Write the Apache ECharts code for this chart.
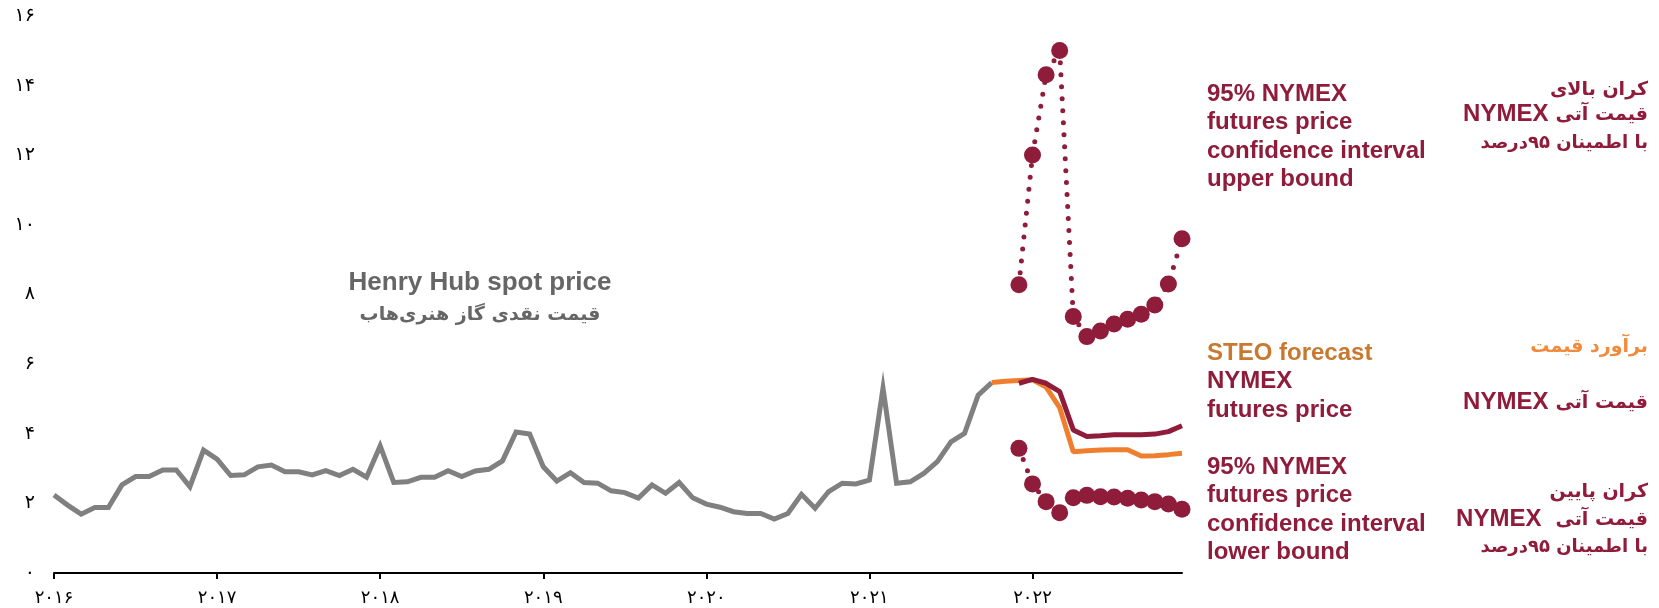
<!DOCTYPE html>
<html>
<head>
<meta charset="utf-8">
<script src="https://cdn.jsdelivr.net/npm/echarts@6/dist/echarts.min.js"></script>
<style>html,body{margin:0;padding:0;background:#fff}#c{width:1659px;height:608px}</style>
</head>
<body>
<div id="c"></div>
<script>
// ---- data ----
const years = [2016, 2017, 2018, 2019, 2020, 2021, 2022];
const yearLabels = ['۲۰۱۶', '۲۰۱۷', '۲۰۱۸', '۲۰۱۹', '۲۰۲۰', '۲۰۲۱', '۲۰۲۲'];
const yTickLabels = ['۰', '۲', '۴', '۶', '۸', '۱۰', '۱۲', '۱۴', '۱۶'];

// Henry Hub spot price, monthly Jan 2016 - Oct 2021
const henryHub = [
  2.24, 1.95, 1.69, 1.88, 1.88, 2.53, 2.77, 2.77, 2.96, 2.96, 2.48, 3.53,
  3.27, 2.80, 2.82, 3.05, 3.10, 2.91, 2.91, 2.82, 2.94, 2.80, 2.98, 2.75,
  3.65, 2.60, 2.62, 2.75, 2.75, 2.94, 2.77, 2.93, 2.98, 3.22, 4.05, 3.99,
  3.05, 2.64, 2.88, 2.60, 2.58, 2.36, 2.31, 2.15, 2.53, 2.29, 2.60, 2.16,
  1.98, 1.89, 1.76, 1.71, 1.71, 1.55, 1.71, 2.26, 1.86, 2.34, 2.58, 2.56,
  2.67, 5.31, 2.58, 2.62, 2.86, 3.20, 3.77, 4.01, 5.11, 5.47
];
// STEO forecast, Oct 2021 - Dec 2022
const steoStart = '2021-10';
const steo = [5.47, 5.51, 5.53, 5.55, 5.34, 4.75, 3.48, 3.51, 3.53, 3.54, 3.54, 3.36, 3.37, 3.40, 3.44];
// NYMEX futures and 95% confidence bounds, Dec 2021 - Dec 2022
const futStart = '2021-12';
const nymex = [5.45, 5.56, 5.45, 5.21, 4.11, 3.92, 3.94, 3.97, 3.97, 3.97, 3.99, 4.06, 4.23];
const upperBound = [8.28, 12.01, 14.31, 15.01, 7.37, 6.79, 6.95, 7.15, 7.29, 7.43, 7.70, 8.30, 9.60];
const lowerBound = [3.58, 2.56, 2.05, 1.73, 2.16, 2.23, 2.19, 2.18, 2.15, 2.10, 2.05, 1.98, 1.83];

// ---- build ----
const months = [];
years.forEach(y => { for (let m = 1; m <= 12; m++) months.push(y + '-' + (m < 10 ? '0' + m : m)); });
function place(startKey, vals) {
  const out = months.map(() => '-');
  const s = months.indexOf(startKey);
  vals.forEach((v, i) => { out[s + i] = v; });
  return out;
}
const MAROON = '#8E1C3A';
const ORANGE = '#EF7F2F';
const GRAY = '#808080';
const PFONT = '"DejaVu Sans", sans-serif';
const EFONT = '"Liberation Sans", Arial, sans-serif';

const chart = echarts.init(document.getElementById('c'), null, { renderer: 'canvas' });
function txt(text, x, y, font, fill, align, lh) {
  return { type: 'text', x: x, y: y, silent: true,
    style: { text: text, font: font, fill: fill, align: align || 'left', verticalAlign: 'middle', lineHeight: lh || 28 } };
}
function nymexFa(x, y, gap) {
  return { type: 'text', x: x, y: y, silent: true,
    style: { text: '{e|NYMEX}{p|قیمت آتی}', align: 'right', verticalAlign: 'middle', fill: MAROON,
      rich: {
        e: { font: 'bold 24px ' + EFONT, fill: MAROON, verticalAlign: 'middle', lineHeight: 30 },
        p: { font: 'bold 19px ' + PFONT, fill: MAROON, verticalAlign: 'middle', lineHeight: 30, padding: [2, 0, 0, gap] }
      } } };
}
const option = {
  animation: false,
  backgroundColor: '#fff',
  grid: { left: 54, right: 477, top: 16, bottom: 35 },
  xAxis: {
    type: 'category', data: months, boundaryGap: false,
    axisLine: { show: true, lineStyle: { color: '#000', width: 2 } },
    axisTick: { show: true, length: 6, lineStyle: { color: '#000', width: 2 }, interval: (i) => i % 12 === 0 },
    axisLabel: { interval: (i) => i % 12 === 0, margin: 16, color: '#000', fontSize: 18, fontFamily: 'DejaVu Sans',
      formatter: (v) => yearLabels[years.indexOf(+v.slice(0, 4))] },
    splitLine: { show: false }
  },
  yAxis: {
    type: 'value', min: 0, max: 16, interval: 2,
    axisLine: { show: false }, axisTick: { show: false }, splitLine: { show: false },
    axisLabel: { margin: 19, color: '#000', fontSize: 19, fontFamily: 'DejaVu Sans',
      formatter: (v) => yTickLabels[v / 2] }
  },
  series: [
    { name: 'Henry Hub', type: 'line', data: place('2016-01', henryHub), showSymbol: false, symbol: 'none',
      lineStyle: { color: GRAY, width: 5, join: 'miter' }, z: 2 },
    { name: 'STEO', type: 'line', data: place(steoStart, steo), symbol: 'none',
      lineStyle: { color: ORANGE, width: 5 }, z: 3 },
    { name: 'NYMEX', type: 'line', data: place(futStart, nymex), symbol: 'none',
      lineStyle: { color: MAROON, width: 5 }, z: 4 },
    { name: 'Upper', type: 'line', data: place(futStart, upperBound), symbol: 'circle', symbolSize: 17, showAllSymbol: true,
      itemStyle: { color: MAROON }, lineStyle: { color: MAROON, width: 5, type: [0, 12], cap: 'round' }, z: 5 },
    { name: 'Lower', type: 'line', data: place(futStart, lowerBound), symbol: 'circle', symbolSize: 17, showAllSymbol: true,
      itemStyle: { color: MAROON }, lineStyle: { color: MAROON, width: 5, type: [0, 12], cap: 'round' }, z: 5 }
  ],
  graphic: [
    txt('Henry Hub spot price', 480, 283, 'bold 26px ' + EFONT, '#666666', 'center'),
    txt('قیمت نقدی گاز هنری‌هاب', 480, 315, 'bold 19px ' + PFONT, '#666666', 'center'),
    txt('95% NYMEX\nfutures price\nconfidence interval\nupper bound', 1207, 137, 'bold 24px ' + EFONT, MAROON, 'left', 28.5),
    txt('STEO forecast', 1207, 353, 'bold 24px ' + EFONT, '#C8792F', 'left'),
    txt('NYMEX\nfutures price', 1207, 396, 'bold 24px ' + EFONT, MAROON, 'left', 28.5),
    txt('95% NYMEX\nfutures price\nconfidence interval\nlower bound', 1207, 510, 'bold 24px ' + EFONT, MAROON, 'left', 28.5),
    txt('کران بالای', 1648, 90, 'bold 19px ' + PFONT, MAROON, 'right'),
    nymexFa(1648, 114, 7),
    txt('با اطمینان ۹۵درصد', 1648, 143, 'bold 18px ' + PFONT, MAROON, 'right'),
    txt('برآورد قیمت', 1648, 347, 'bold 19px ' + PFONT, '#F08A3C', 'right'),
    nymexFa(1648, 402, 7),
    txt('کران پایین', 1648, 492, 'bold 19px ' + PFONT, MAROON, 'right'),
    nymexFa(1648, 519, 14),
    txt('با اطمینان ۹۵درصد', 1648, 547, 'bold 18px ' + PFONT, MAROON, 'right')
  ]
};
chart.setOption(option);
</script>
</body>
</html>
